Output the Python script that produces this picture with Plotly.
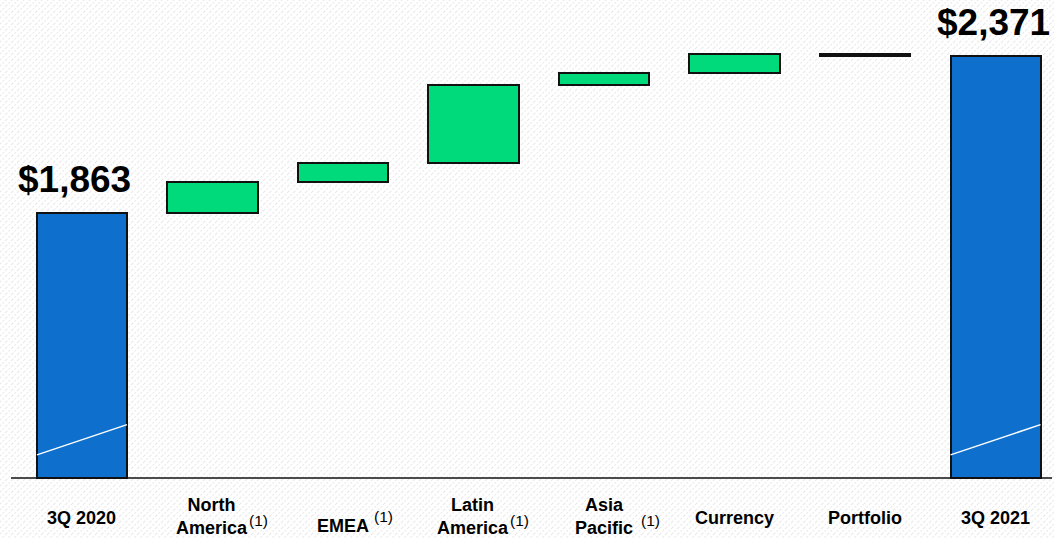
import base64
import plotly.graph_objects as go

# ---- data -------------------------------------------------------------
categories = ["3Q 2020", "North\nAmerica", "EMEA", "Latin\nAmerica",
              "Asia\nPacific", "Currency", "Portfolio", "3Q 2021"]
measures = ["total", "relative", "relative", "relative",
            "relative", "relative", "relative", "total"]
values = [1863, 99, 61, 253, 39, 62, -6, 2371]
value_labels = ["$1,863", None, None, None, None, None, None, "$2,371"]
footnote = [None, "(1)", "(1)", "(1)", "(1)", None, None, None]

# ---- styling ----------------------------------------------------------
FLOOR = 1005            # value where the (broken) axis starts
BLUE = "#0E6FCD"
GREEN = "#00DA7A"
FONT = "Liberation Sans, Arial, sans-serif"
W, H = 1054, 538
BAR_W = 0.69

# build bar bases / heights from the waterfall values
bases, heights, colors = [], [], []
running = None
for m, v in zip(measures, values):
    if m == "total":
        bases.append(FLOOR)
        heights.append(v - FLOOR)
        colors.append(BLUE)
        running = v
    else:
        bases.append(running)
        heights.append(v)
        colors.append(GREEN)
        running += v

xs = list(range(len(categories)))

fig = go.Figure()
fig.add_trace(go.Bar(
    x=xs, y=heights, base=bases, width=BAR_W,
    marker=dict(color=colors, line=dict(color="#111111", width=2)),
    hoverinfo="skip", showlegend=False,
))

# axis-break slashes across the two total bars
for i, m in enumerate(measures):
    if m == "total":
        fig.add_shape(type="line", xref="x", yref="y",
                      x0=i - BAR_W / 2, x1=i + BAR_W / 2,
                      y0=FLOOR + 75, y1=FLOOR + 173,
                      line=dict(color="white", width=1.5))

# value labels above the total bars
for i, (lab, v) in enumerate(zip(value_labels, values)):
    if lab:
        fig.add_annotation(x=i, y=v, xref="x", yref="y", text=f"<b>{lab}</b>",
                           showarrow=False, yanchor="middle", yshift=33,
                           xshift=-7 if i == 0 else -2,
                           font=dict(family=FONT, size=37, color="black"))

# category labels and footnote markers
def py(p):
    return 1 - p / H

for i, cat in enumerate(categories):
    lines = cat.split("\n")
    single = len(lines) == 1
    if single:
        yc = 526 if cat == "EMEA" else 518
    else:
        yc = 516
    fig.add_annotation(x=i, y=py(yc), xref="x", yref="paper",
                       text="<b>" + "<br>".join(lines) + "</b>",
                       showarrow=False, yanchor="middle", xanchor="center",
                       font=dict(family=FONT, size=18, color="black"))
    if footnote[i]:
        fig.add_annotation(x=i, y=py(516 if single else 520), xref="x",
                           yref="paper", text=footnote[i], showarrow=False,
                           xanchor="center", yanchor="middle",
                           xshift=41 if single else 46,
                           font=dict(family=FONT, size=15.5, color="black"))

# baseline
fig.add_shape(type="line", xref="paper", yref="y",
              x0=11 / W, x1=1052 / W, y0=FLOOR, y1=FLOOR,
              line=dict(color="#111111", width=1.5))

# faint diagonal hatch on the slide background
svg = (f'<svg xmlns="http://www.w3.org/2000/svg" width="{W}" height="{H}">'
       '<defs><pattern id="h" width="6" height="6" patternUnits="userSpaceOnUse">'
       '<path d="M-1,1 l2,-2 M0,6 l6,-6 M5,7 l2,-2" stroke="#e9e9e9" '
       'stroke-width="1.1" stroke-dasharray="2,1.5"/></pattern></defs>'
       '<rect width="100%" height="100%" fill="url(#h)"/></svg>')
src = "data:image/svg+xml;base64," + base64.b64encode(svg.encode()).decode()
fig.add_layout_image(source=src, xref="paper", yref="paper", x=0, y=1,
                     sizex=1, sizey=1, sizing="stretch", layer="below",
                     xanchor="left", yanchor="top")

fig.update_layout(
    width=W, height=H,
    margin=dict(l=0, r=0, t=0, b=0),
    paper_bgcolor="white", plot_bgcolor="rgba(0,0,0,0)",
    bargap=0,
    xaxis=dict(range=[-0.628, 7.448], visible=False, fixedrange=True),
    yaxis=dict(range=[811, 2552], visible=False, fixedrange=True),
    font=dict(family=FONT),
)

fig.write_html("out.html")
